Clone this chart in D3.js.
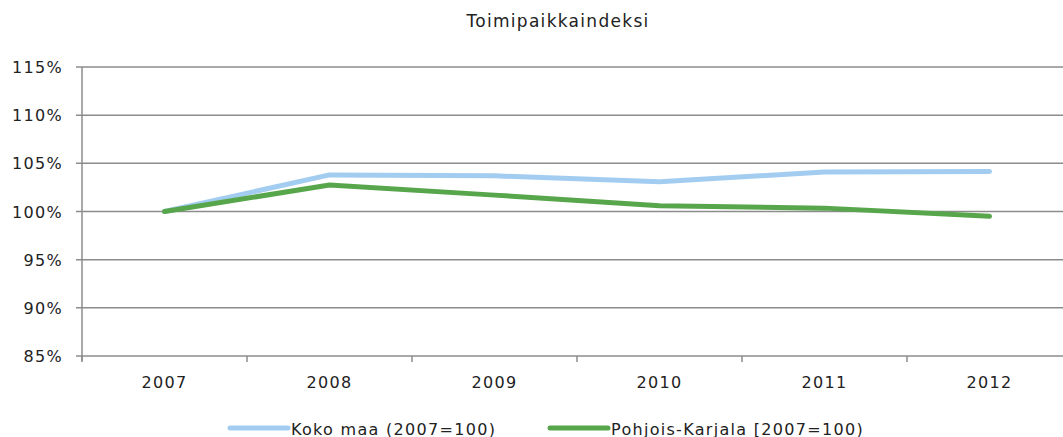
<!DOCTYPE html>
<html>
<head>
<meta charset="utf-8">
<script src="https://cdn.jsdelivr.net/npm/d3@7"></script>
<style>
  body { margin: 0; background: #fff; }
  text { font-family: "DejaVu Sans", Verdana, sans-serif; fill: #222; }
</style>
</head>
<body>
<svg id="chart" width="1063" height="437"></svg>
<script>
// data
const years = ['2007', '2008', '2009', '2010', '2011', '2012'];
const kokoMaa = [100, 103.8, 103.7, 103.1, 104.1, 104.15];
const pohjoisKarjala = [100, 102.75, 101.7, 100.6, 100.35, 99.5];
const yTicks = [85, 90, 95, 100, 105, 110, 115];
const seriesNames = ['Koko maa (2007=100)', 'Pohjois-Karjala [2007=100)'];
const seriesColors = ['#a3cdf0', '#58a64c'];

let svg = d3.select('#chart');
let margin = {left: 82, top: 67, bottom: 81};
let plotW = 165 * years.length;
let plotH = 437 - margin.top - margin.bottom;

let x = d3.scaleBand().domain(years).range([margin.left, margin.left + plotW]);
let y = d3.scaleLinear().domain([85, 115]).range([margin.top + plotH, margin.top]);

// 标题
svg.append('text')
    .attr('x', 558).attr('y', 27)
    .attr('text-anchor', 'middle')
    .style('font-size', '17px')
    .style('letter-spacing', '1.3px')
    .text('Toimipaikkaindeksi');

// 网格线
svg.append('g')
    .selectAll('line')
    .data(yTicks)
    .join('line')
    .attr('x1', margin.left - 6)
    .attr('x2', margin.left + plotW)
    .attr('y1', d => y(d))
    .attr('y2', d => y(d))
    .attr('stroke', '#8c8c8c')
    .attr('stroke-width', 1.5);

// y axis line
svg.append('line')
    .attr('x1', margin.left).attr('x2', margin.left)
    .attr('y1', y(115)).attr('y2', y(85) + 5)
    .attr('stroke', '#8c8c8c').attr('stroke-width', 1.5);

// y labels
svg.append('g')
    .selectAll('text')
    .data(yTicks)
    .join('text')
    .attr('x', 63)
    .attr('y', d => y(d) + 6)
    .attr('text-anchor', 'end')
    .style('font-size', '16px')
    .style('letter-spacing', '1.3px')
    .text(d => d + '%');

// x ticks at category boundaries
let bounds = years.map(d => x(d)).concat([margin.left + plotW]);
svg.append('g')
    .selectAll('line')
    .data(bounds)
    .join('line')
    .attr('x1', d => d).attr('x2', d => d)
    .attr('y1', y(85)).attr('y2', y(85) + 6)
    .attr('stroke', '#8c8c8c').attr('stroke-width', 1.5);

svg.append('g')
    .selectAll('text')
    .data(years)
    .join('text')
    .attr('x', d => x(d) + x.bandwidth() / 2)
    .attr('y', 388)
    .attr('text-anchor', 'middle')
    .style('font-size', '16px')
    .style('letter-spacing', '1.3px')
    .text(d => d);

// lines
let line = d3.line()
    .x((d, i) => x(years[i]) + x.bandwidth() / 2)
    .y(d => y(d));

[kokoMaa, pohjoisKarjala].forEach((s, i) => {
    svg.append('path')
        .attr('d', line(s))
        .attr('fill', 'none')
        .attr('stroke', seriesColors[i])
        .attr('stroke-width', 5)
        .attr('stroke-linejoin', 'round')
        .attr('stroke-linecap', 'round');
});

// 图例
let legendX = [228, 548];
seriesNames.forEach((name, i) => {
    let g = svg.append('g').attr('transform', `translate(${legendX[i]},428)`);
    g.append('line')
        .attr('x1', 2).attr('x2', 60)
        .attr('stroke', seriesColors[i])
        .attr('stroke-width', 5)
        .attr('stroke-linecap', 'round');
    g.append('text')
        .attr('x', 63).attr('y', 7)
        .style('font-size', '16px')
        .style('letter-spacing', '1.3px')
        .text(name);
});
</script>
</body>
</html>
